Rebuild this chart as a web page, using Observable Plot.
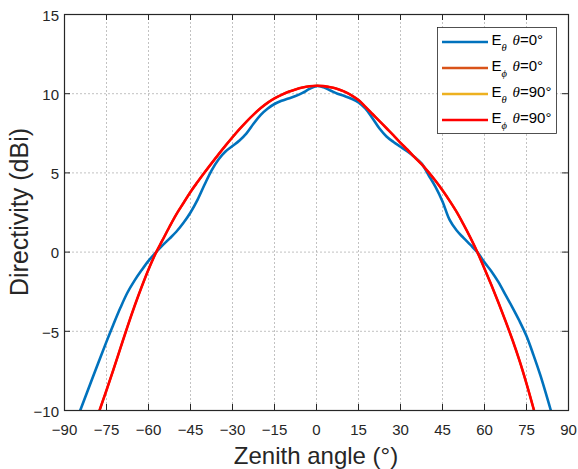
<!DOCTYPE html>
<html>
<head>
<meta charset="utf-8">
<script src="https://cdn.jsdelivr.net/npm/d3@7"></script>
<script src="https://cdn.jsdelivr.net/npm/@observablehq/plot@0.6"></script>
<style>
  html, body { margin: 0; padding: 0; background: #fff; }
  #chart svg { display: block; font-family: "Liberation Sans", Arial, sans-serif; }
</style>
</head>
<body>
<div id="chart"></div>
<script>
// ---- Data ----
const xTicks = [-90, -75, -60, -45, -30, -15, 0, 15, 30, 45, 60, 75, 90];
const yTicks = [-10, -5, 0, 5, 10, 15];

// E_theta, theta=0 (blue)
const blueAngle = [-84.4, -80, -75, -72.5, -70, -67.5, -65, -62.5, -60, -57.5, -55, -52.5, -50, -47.5, -45, -42.5, -40, -37.5, -35, -32.5, -30, -27.5, -25, -22.5, -20, -17.5, -15, -12.5, -10, -7.5, -5, -2.5, 0,
  2.5, 5, 7.5, 10, 12.5, 15, 17.5, 20, 22.5, 25, 27.5, 30, 32.5, 35, 37.5, 40, 42.5, 45, 47.5, 50, 52.5, 55, 57.5, 60, 62.5, 65, 67.5, 70, 72.5, 75, 77.5, 80, 83.7];
const blueDir = [-10, -7.95, -5.65, -4.55, -3.5, -2.55, -1.8, -1.15, -0.55, -0.05, 0.42, 0.85, 1.3, 1.85, 2.5, 3.3, 4.25, 5.15, 5.85, 6.35, 6.7, 7.05, 7.5, 8.1, 8.65, 9.05, 9.35, 9.55, 9.7, 9.85, 10.05, 10.3, 10.48,
  10.4, 10.2, 10.0, 9.85, 9.68, 9.45, 9.05, 8.45, 7.8, 7.3, 6.95, 6.65, 6.35, 6.0, 5.6, 4.87, 4.12, 3.2, 2.05, 1.38, 0.9, 0.45, -0.02, -0.65, -1.22, -1.9, -2.7, -3.5, -4.35, -5.3, -6.5, -7.8, -10];

// E_phi, theta=90 (red)
const redAngle = [-77.5, -75, -72.5, -70, -67.5, -65, -62.5, -60, -57.5, -55, -52.5, -50, -47.5, -45, -42.5, -40, -37.5, -35, -32.5, -30, -27.5, -25, -22.5, -20, -17.5, -15, -12.5, -10, -7.5, -5, -2.5, 0,
  2.5, 5, 7.5, 10, 12.5, 15, 17.5, 20, 22.5, 25, 27.5, 30, 32.5, 35, 37.5, 40, 42.5, 45, 47.5, 50, 52.5, 55, 57.5, 60, 62.5, 65, 67.5, 70, 72.5, 75, 77.7];
const redDir = [-10, -8.72, -7.4, -6.05, -4.7, -3.42, -2.22, -1.1, -0.1, 0.75, 1.6, 2.4, 3.1, 3.8, 4.42, 5.02, 5.6, 6.17, 6.72, 7.25, 7.76, 8.24, 8.68, 9.08, 9.42, 9.7, 9.93, 10.12, 10.27, 10.39, 10.47, 10.5,
  10.48, 10.41, 10.3, 10.13, 9.9, 9.6, 9.17, 8.72, 8.27, 7.82, 7.37, 6.9, 6.46, 6.0, 5.55, 5.05, 4.5, 3.9, 3.25, 2.55, 1.75, 0.9, -0.02, -1.05, -2.1, -3.2, -4.35, -5.55, -6.85, -8.3, -10];

// Hidden series (fully covered by the red curve in the reference)
const orangeAngle = redAngle, orangeDir = redDir;   // E_phi, theta=0
const yellowAngle = redAngle, yellowDir = redDir;   // E_theta, theta=90

const seriesMain = ["E", "E", "E", "E"];
const seriesSub = ["θ", "ϕ", "θ", "ϕ"];
const seriesTheta = ["0°", "0°", "90°", "90°"];
const seriesColors = ["#0072BD", "#D95319", "#EDB120", "#FF0000"];

const xLabel = "Zenith angle (°)";
const yLabel = "Directivity (dBi)";

// ---- Build tables ----
const toRows = (a, d) => a.map((v, i) => ({angle: v, dir: d[i]}));
const blue = toRows(blueAngle, blueDir);
const orange = toRows(orangeAngle, orangeDir);
const yellow = toRows(yellowAngle, yellowDir);
const red = toRows(redAngle, redDir);

const W = 578, H = 469;
const mL = 64, mR = 10, mT = 14, mB = 59;
const plotW = W - mL - mR, plotH = H - mT - mB;
const tick = 6;
const axisColor = "#262626";

const lineOpts = (c, w) => ({x: "angle", y: "dir", stroke: c, strokeWidth: w, curve: "catmull-rom", strokeLinejoin: "round", strokeLinecap: "butt"});

const plot = Plot.plot({
  width: W, height: H,
  marginLeft: mL, marginRight: mR, marginTop: mT, marginBottom: mB,
  x: {domain: [-90, 90], ticks: xTicks, label: null},
  y: {domain: [-10, 15], ticks: yTicks, label: null},
  style: {fontFamily: "'Liberation Sans', Arial, sans-serif", fontSize: "15px", color: axisColor, background: "#fff", overflow: "visible"},
  marks: [
    Plot.gridX(xTicks, {stroke: "#9a9a9a", strokeOpacity: 0.6, strokeDasharray: "2,2", strokeWidth: 1}),
    Plot.gridY(yTicks, {stroke: "#9a9a9a", strokeOpacity: 0.6, strokeDasharray: "2,2", strokeWidth: 1}),
    Plot.line(blue, lineOpts(seriesColors[0], 2.6)),
    Plot.line(orange, lineOpts(seriesColors[1], 2.0)),
    Plot.line(yellow, lineOpts(seriesColors[2], 2.0)),
    Plot.line(red, lineOpts(seriesColors[3], 2.6)),
    // inward ticks on all four sides
    Plot.ruleX(xTicks, {x: d => d, stroke: axisColor, strokeWidth: 1, insetTop: plotH - tick}),
    Plot.ruleX(xTicks, {x: d => d, stroke: axisColor, strokeWidth: 1, insetBottom: plotH - tick}),
    Plot.ruleY(yTicks, {y: d => d, stroke: axisColor, strokeWidth: 1, insetRight: plotW - tick}),
    Plot.ruleY(yTicks, {y: d => d, stroke: axisColor, strokeWidth: 1, insetLeft: plotW - tick}),
    Plot.axisX(xTicks, {tickSize: 0, tickPadding: 13.5, fontSize: 15, fill: axisColor, label: null}),
    Plot.axisY(yTicks, {tickSize: 0, tickPadding: 5.5, fontSize: 15, fill: axisColor, label: null, dy: 1.5}),
    Plot.frame({stroke: axisColor, strokeWidth: 1.2})
  ]
});

document.getElementById("chart").appendChild(plot);

// ---- Axis titles and legend (drawn into the same SVG) ----
const svg = d3.select(plot);
svg.append("text")
  .attr("x", mL + plotW / 2).attr("y", 463.5)
  .attr("text-anchor", "middle")
  .attr("font-size", 24).attr("fill", axisColor)
  .text(xLabel);
svg.append("text")
  .attr("transform", `translate(28,${mT + plotH / 2}) rotate(-90)`)
  .attr("text-anchor", "middle")
  .attr("font-size", 25).attr("fill", axisColor)
  .text(yLabel);

const serif = "'Liberation Serif', 'DejaVu Serif', serif";
const lg = svg.append("g").attr("text-anchor", "start");
lg.append("rect").attr("x", 437.5).attr("y", 27.5).attr("width", 119).attr("height", 106)
  .attr("fill", "#fff").attr("stroke", axisColor).attr("stroke-width", 0.8);
const rowY = [42, 68, 94, 120];
seriesColors.forEach((c, i) => {
  const y = rowY[i];
  lg.append("line").attr("x1", 442).attr("x2", 488).attr("y1", y).attr("y2", y)
    .attr("stroke", c).attr("stroke-width", 2.6);
  lg.append("text").attr("x", 491.5).attr("y", y + 2.5).attr("text-anchor", "start")
    .attr("font-size", 15).attr("fill", "#000").text(seriesMain[i]);
  lg.append("text").attr("x", 501.5).attr("y", y + 8.5).attr("text-anchor", "start")
    .attr("font-size", 10.5).attr("font-family", serif).attr("font-style", "italic").attr("fill", "#000").text(seriesSub[i]);
  lg.append("text").attr("x", 512.5).attr("y", y + 2.5).attr("text-anchor", "start")
    .attr("font-size", 15).attr("font-family", serif).attr("font-style", "italic").attr("fill", "#000").text("θ");
  lg.append("text").attr("x", 520).attr("y", y + 2.5).attr("text-anchor", "start")
    .attr("font-size", 15).attr("fill", "#000").text("=" + seriesTheta[i]);
});
</script>
</body>
</html>
